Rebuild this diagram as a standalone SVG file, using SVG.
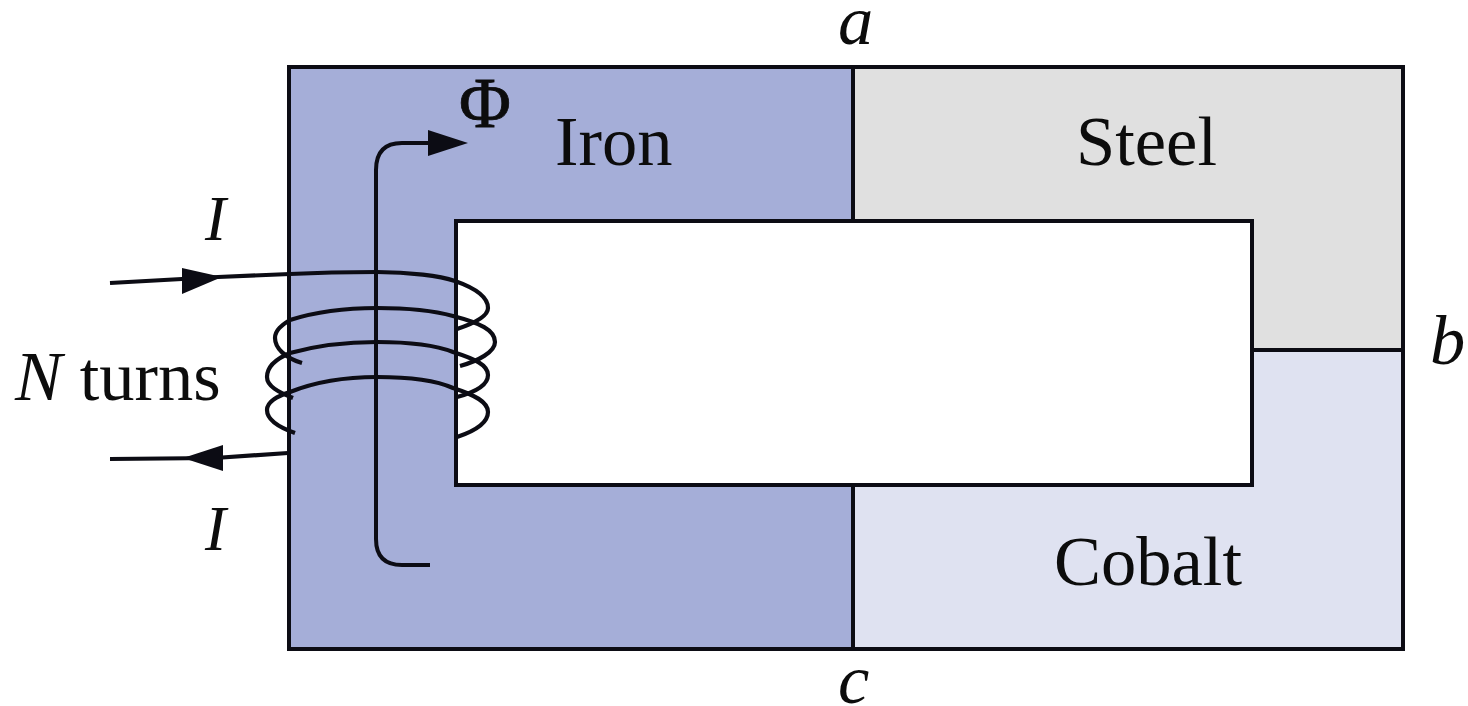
<svg xmlns="http://www.w3.org/2000/svg" width="1468" height="706" viewBox="0 0 1468 706">
<style>
text{font-family:"Liberation Serif","Times New Roman",serif;font-size:70.5px;fill:#0c0c0c}
.i{font-style:italic}
.s{stroke:#0c0c14;stroke-width:4;fill:none;stroke-linejoin:miter}
.w{stroke:#0c0c14;stroke-width:4.2;fill:none;stroke-linecap:butt}
.h{fill:#0c0c14;stroke:none}
.n{font-size:63px}
</style>
<rect width="1468" height="706" fill="#fff"/>
<g id="core">
<path id="iron" d="M289 67H853V221H456V485H853V649H289Z" fill="#a5aed8"/>
<path id="steel" d="M853 67H1403V350H1252V221H853Z" fill="#e0e0e0"/>
<path id="cobalt" d="M853 485H1252V350H1403V649H853Z" fill="#dfe2f1"/>
<path class="s" d="M289 67H1403V649H289Z"/>
<rect class="s" x="456" y="221" width="796" height="264"/>
<path class="s" d="M853 67V221M853 485V649M1252 350H1403"/>
</g>
<g id="connectors">
<g id="flux">
<path class="s" d="M430 565H402Q376 565 376 539V170Q376 143 402 143H435"/>
<path class="h" d="M428 130L468 143L428 156Z"/>
</g>
<g id="coil">
<path class="w" d="M110 283L218 277L290 274C330 272 350 272 377 272C410 272 440 276 455 281C475 288 488 297 488 308C488 317 472 324 457 329"/>
<path class="w" d="M302 363C285 358 275 348 275 338C275 330 282 325 290 320C315 312 345 308 377 308C405 308 435 311 453 316C480 323 495 330 495 342C495 352 478 361 460 366"/>
<path class="w" d="M293 398C278 392 267 386 267 377C267 366 278 358 290 353C315 346 345 342 377 342C405 342 435 345 453 352C475 359 488 365 488 375C488 386 472 393 457 397"/>
<path class="w" d="M295 433C278 427 267 420 267 410C267 401 278 396 290 392C315 382 345 377 377 377C405 377 435 380 453 388C475 395 488 402 488 412C488 424 472 432 457 437"/>
<path class="w" d="M110 459L215 458L288 453"/>
<path class="h" d="M182 268L222 277L182 294Z"/>
<path class="h" d="M223 445L183 458L223 471Z"/>
</g>
</g>
<g id="labels">
<text x="555" y="165">Iron</text>
<text x="1076" y="165">Steel</text>
<text x="1054" y="585">Cobalt</text>
<text x="15" y="400"><tspan class="i">N</tspan> turns</text>
<text class="i" x="838" y="44">a</text>
<text class="i" x="1430" y="364">b</text>
<text class="i" x="838" y="703">c</text>
<text class="i n" x="205" y="240">I</text>
<text class="i n" x="205" y="550">I</text>
<text x="459" y="127" style="font-size:71px;stroke:#0c0c0c;stroke-width:.8">Φ</text>
</g>
</svg>
